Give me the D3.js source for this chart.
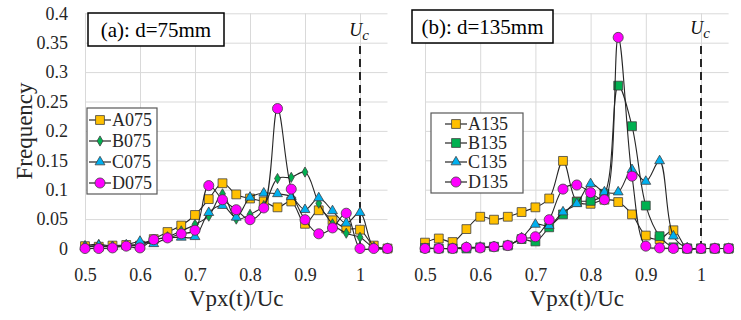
<!DOCTYPE html>
<html>
<head>
<meta charset="utf-8">
<script src="https://cdn.jsdelivr.net/npm/d3@7"></script>
<style>
  body { margin: 0; background: #fff; }
  svg { display: block; }
  svg text { font-family: "Liberation Serif", "Times New Roman", serif; }
</style>
</head>
<body>
<div id="root"></div>
<script>
// x categories (Vpx(t)/Uc)
var vx = [0.5, 0.525, 0.55, 0.575, 0.6, 0.625, 0.65, 0.675, 0.7, 0.725, 0.75, 0.775,
          0.8, 0.825, 0.85, 0.875, 0.9, 0.925, 0.95, 0.975, 1.0, 1.025, 1.05];

// panel (a) d=75mm
var a075 = [0.004, 0.003, 0.005, 0.006, 0.005, 0.016, 0.028, 0.039, 0.057, 0.084, 0.111, 0.092,
            0.085, 0.08, 0.07, 0.08, 0.042, 0.065, 0.048, 0.034, 0.032, 0.005, 0];
var b075 = [0.005, 0.007, 0.004, 0.005, 0.008, 0.015, 0.02, 0.03, 0.041, 0.055, 0.093, 0.05,
            0.058, 0.073, 0.119, 0.121, 0.13, 0.077, 0.042, 0.026, 0.019, 0.002, 0];
var c075 = [0.003, 0.005, 0.003, 0.006, 0.012, 0.008, 0.018, 0.019, 0.02, 0.061, 0.073, 0.053,
            0.087, 0.094, 0.093, 0.088, 0.066, 0.086, 0.064, 0.043, 0.061, 0.002, 0];
var d075 = [0, 0, 0.001, 0.004, 0.001, 0.015, 0.018, 0.025, 0.031, 0.107, 0.083, 0.066,
            0.049, 0.069, 0.238, 0.101, 0.049, 0.025, 0.035, 0.06, 0, 0, 0];

// panel (b) d=135mm
var a135 = [0.01, 0.017, 0.011, 0.033, 0.054, 0.049, 0.054, 0.062, 0.07, 0.085, 0.149, 0.08,
            0.076, 0.083, 0.079, 0.058, 0.022, 0.016, 0.031, 0, 0, 0, 0];
var b135 = [0.001, 0, 0, 0, 0.002, 0.003, 0.005, 0.016, 0.012, 0.036, 0.058, 0.079,
            0.081, 0.093, 0.277, 0.208, 0.073, 0.021, 0.002, 0, 0, 0, 0];
var c135 = [0, 0, 0, 0.002, 0.002, 0.003, 0.005, 0.018, 0.041, 0.039, 0.062, 0.076,
            0.11, 0.096, 0.096, 0.134, 0.114, 0.149, 0.021, 0.001, 0, 0, 0];
var d135 = [0, 0, 0, 0.002, 0.001, 0.003, 0.005, 0.017, 0.02, 0.049, 0.101, 0.108,
            0.095, 0.083, 0.359, 0.123, 0.004, 0.001, 0, 0, 0, 0, 0];

var xTicks = [0.5, 0.6, 0.7, 0.8, 0.9, 1];
var yTicks = [0, 0.05, 0.1, 0.15, 0.2, 0.25, 0.3, 0.35, 0.4];

var width = 741, height = 320;

var svg = d3.select("#root").append("svg")
            .attr("width", width)
            .attr("height", height);

var y = d3.scaleLinear().domain([0, 0.4]).range([248.5, 13.3]);

var markers = {
  square:   { type: d3.symbolSquare,   size: 78 },
  diamond:  { type: d3.symbolDiamond,  size: 30 },
  triangle: { type: d3.symbolTriangle, size: 42 },
  circle:   { type: d3.symbolCircle,   size: 80 }
};

function drawPanel(opt) {
  var x = d3.scaleLinear().domain([0.5, 1.05]).range([opt.x0, opt.x1]);
  var g = svg.append("g");

  // gridlines
  g.append("g")
    .attr("transform", "translate(" + opt.x0 + ",0)")
    .call(d3.axisLeft(y).tickValues(yTicks).tickSize(-(opt.x1 - opt.x0)).tickFormat(""))
    .call(function(s) {
      s.select(".domain").remove();
      s.selectAll("line").attr("stroke", "#d9d9d9").attr("stroke-width", 1);
    });
  g.append("g")
    .attr("transform", "translate(0," + y(0) + ")")
    .call(d3.axisBottom(x).tickValues(xTicks).tickSize(-(y(0) - y(0.4))).tickFormat(""))
    .call(function(s) {
      s.select(".domain").remove();
      s.selectAll("line").attr("stroke", "#d9d9d9").attr("stroke-width", 1);
    });

  // x tick labels
  g.append("g")
    .attr("transform", "translate(0," + y(0) + ")")
    .call(d3.axisBottom(x).tickValues(xTicks).tickSize(0).tickPadding(20).tickFormat(String))
    .call(function(s) {
      s.select(".domain").remove();
      s.selectAll("text").attr("font-size", 18).attr("fill", "#262626");
    });

  if (opt.yLabels) {
    g.append("g")
      .attr("transform", "translate(" + (opt.x0 - 14) + ",0)")
      .call(d3.axisLeft(y).tickValues(yTicks).tickSize(0).tickFormat(String))
      .call(function(s) {
        s.select(".domain").remove();
        s.selectAll("text").attr("font-size", 18).attr("fill", "#262626");
      });
    svg.append("text")
      .attr("transform", "translate(32,131) rotate(-90)")
      .attr("text-anchor", "middle")
      .attr("font-size", 23)
      .attr("fill", "#262626")
      .text("Frequency");
  }

  // x title
  g.append("text")
    .attr("x", (opt.x0 + opt.x1) / 2)
    .attr("y", 306)
    .attr("text-anchor", "middle")
    .attr("font-size", 23)
    .attr("fill", "#262626")
    .text("Vpx(t)/Uc");

  // Uc dashed line
  g.append("line")
    .attr("x1", x(1)).attr("x2", x(1))
    .attr("y1", 46).attr("y2", y(0))
    .attr("stroke", "#262626")
    .attr("stroke-width", 2)
    .attr("stroke-dasharray", "8,5");
  var uc = g.append("text")
    .attr("x", x(1) - 1)
    .attr("y", opt.ucY)
    .attr("text-anchor", "middle")
    .attr("font-size", 18)
    .attr("font-style", "italic")
    .attr("fill", "#111");
  uc.append("tspan").text("U");
  uc.append("tspan").attr("dy", 4).attr("font-size", 15).text("c");

  // series
  var line = d3.line()
    .x(function(d) { return x(d[0]); })
    .y(function(d) { return y(d[1]); })
    .curve(d3.curveCatmullRom.alpha(0.5));

  opt.series.forEach(function(s) {
    var pts = vx.map(function(v, i) { return [v, s.values[i]]; });
    g.append("path")
      .datum(pts)
      .attr("fill", "none")
      .attr("stroke", "#262626")
      .attr("stroke-width", 1.1)
      .attr("d", line);
    g.selectAll(null)
      .data(pts)
      .enter()
      .append("path")
      .attr("transform", function(d) { return "translate(" + x(d[0]) + "," + y(d[1]) + ")"; })
      .attr("d", d3.symbol().type(markers[s.marker].type).size(markers[s.marker].size))
      .attr("fill", s.color)
      .attr("stroke", "#404040")
      .attr("stroke-width", 0.8);
  });

  // title box
  g.append("rect")
    .attr("x", opt.title.x).attr("y", opt.title.y)
    .attr("width", opt.title.w).attr("height", 33)
    .attr("fill", "#fff")
    .attr("stroke", "#000")
    .attr("stroke-width", 1.5);
  g.append("text")
    .attr("x", opt.title.x + opt.title.w / 2)
    .attr("y", opt.title.y + 24)
    .attr("text-anchor", "middle")
    .attr("font-size", 21)
    .attr("fill", "#000")
    .text(opt.title.text);

  // legend
  var lg = opt.legend;
  g.append("rect")
    .attr("x", lg.x).attr("y", lg.y)
    .attr("width", lg.w).attr("height", lg.h)
    .attr("fill", "#fff")
    .attr("stroke", "#595959")
    .attr("stroke-width", 1.2);
  opt.series.forEach(function(s, i) {
    var cy = lg.rows[i];
    g.append("line")
      .attr("x1", lg.lx).attr("x2", lg.lx + 22)
      .attr("y1", cy).attr("y2", cy)
      .attr("stroke", "#262626").attr("stroke-width", 1.2);
    g.append("path")
      .attr("transform", "translate(" + (lg.lx + 11) + "," + cy + ")")
      .attr("d", d3.symbol().type(markers[s.marker].type).size(markers[s.marker].size))
      .attr("fill", s.color)
      .attr("stroke", "#404040")
      .attr("stroke-width", 0.8);
    g.append("text")
      .attr("x", lg.lx + 23)
      .attr("y", cy + 6)
      .attr("font-size", 18)
      .attr("fill", "#262626")
      .text(s.name);
  });
}

drawPanel({
  x0: 85, x1: 387.5, yLabels: true, ucY: 36,
  title: { x: 88, y: 13, w: 136, text: "(a): d=75mm" },
  legend: { x: 87, y: 108, w: 70, h: 86, lx: 89, rows: [120, 141, 162, 183] },
  series: [
    { name: "A075", values: a075, marker: "square", color: "#FFC000" },
    { name: "B075", values: b075, marker: "diamond", color: "#00B050" },
    { name: "C075", values: c075, marker: "triangle", color: "#00B0F0" },
    { name: "D075", values: d075, marker: "circle", color: "#FF00FF" }
  ]
});

drawPanel({
  x0: 425, x1: 728.6, yLabels: false, ucY: 34,
  title: { x: 412, y: 10, w: 141, text: "(b): d=135mm" },
  legend: { x: 431, y: 113, w: 92, h: 80, lx: 445, rows: [124, 143, 162, 182] },
  series: [
    { name: "A135", values: a135, marker: "square", color: "#FFC000" },
    { name: "B135", values: b135, marker: "square", color: "#00B050" },
    { name: "C135", values: c135, marker: "triangle", color: "#00B0F0" },
    { name: "D135", values: d135, marker: "circle", color: "#FF00FF" }
  ]
});
</script>
</body>
</html>
